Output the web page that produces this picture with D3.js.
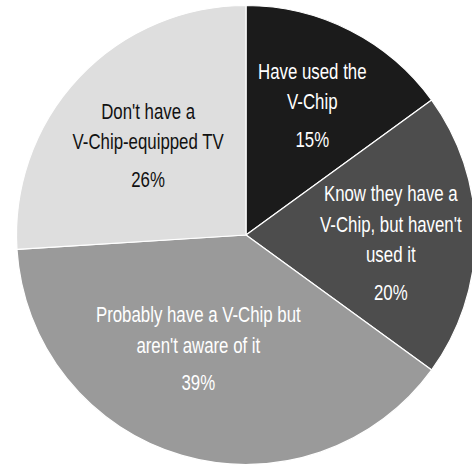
<!DOCTYPE html>
<html>
<head>
<meta charset="utf-8">
<script src="https://cdn.jsdelivr.net/npm/d3@7"></script>
<style>
  html, body { margin: 0; padding: 0; background: #fff; }
  svg { display: block; }
  text { font-family: "Liberation Sans", Arial, sans-serif; font-size: 22px; }
</style>
</head>
<body>
<svg id="chart" width="472" height="465"></svg>
<script>
// Data
const categories = [
  ["Have used the", "V-Chip"],
  ["Know they have a", "V-Chip, but haven't", "used it"],
  ["Probably have a V-Chip but", "aren't aware of it"],
  ["Don't have a", "V-Chip-equipped TV"]
];
const values = [15, 20, 39, 26];
const percentLabels = ["15%", "20%", "39%", "26%"];

// Styling / layout (not data)
const fills = ["#1b1b1b", "#4d4d4d", "#9a9a9a", "#dedede"];
const textFills = ["#ffffff", "#ffffff", "#ffffff", "#111111"];
const labelRadius = [146, 145, 123, 133];
const labelAngleShift = [0, 3, 6.6, -0.6]; // degrees
const condense = 0.765;

const cx = 246, cy = 235, R = 229.5;
const lineGap = 30.5, pctGap = 37.5, capH = 15.5;

const svg = d3.select("#chart");
const g = svg.append("g").attr("transform", `translate(${cx},${cy})`);

const pie = d3.pie().sort(null).value(d => d).startAngle(0).endAngle(2 * Math.PI);
const arcs = pie(values);
const arc = d3.arc().innerRadius(0).outerRadius(R);

g.selectAll("path.slice")
  .data(arcs)
  .join("path")
  .attr("class", "slice")
  .attr("d", arc)
  .attr("fill", (d, i) => fills[i])
  .attr("stroke", "#ffffff")
  .attr("stroke-width", 1.2)
  .attr("stroke-linejoin", "round");

function addText(parent, x, y, s) {
  parent.append("text")
    .attr("transform", `translate(${x},${y}) scale(${condense},1)`)
    .attr("x", 0).attr("y", 0)
    .text(s);
}

arcs.forEach((d, i) => {
  const a = (d.startAngle + d.endAngle) / 2 + labelAngleShift[i] * Math.PI / 180;
  const lx = labelRadius[i] * Math.sin(a);
  const ly = -labelRadius[i] * Math.cos(a);
  const lines = categories[i];
  const total = capH + (lines.length - 1) * lineGap + pctGap;
  const firstBase = ly - total / 2 + capH;
  const t = g.append("g").attr("fill", textFills[i]).attr("text-anchor", "middle");
  lines.forEach((s, j) => addText(t, lx, firstBase + j * lineGap, s));
  addText(t, lx, firstBase + (lines.length - 1) * lineGap + pctGap, percentLabels[i]);
});
</script>
</body>
</html>
